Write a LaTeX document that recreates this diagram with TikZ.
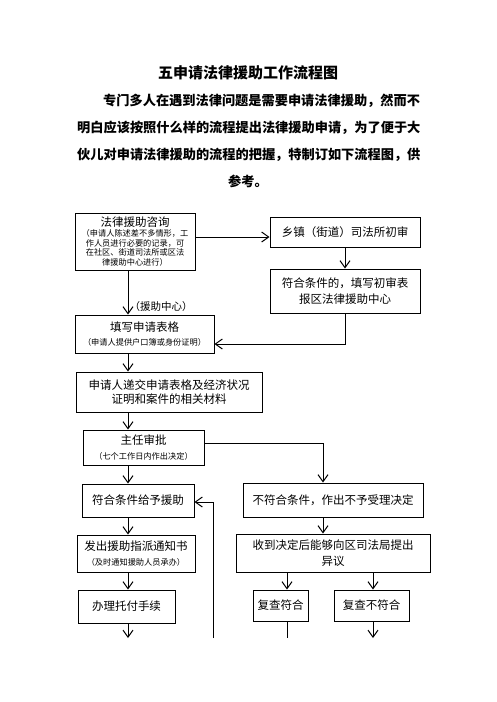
\documentclass[tikz,border=0pt]{standalone}
\usepackage{fontspec}
\setmainfont{Noto Sans CJK SC}
\usetikzlibrary{arrows.meta}
\newcommand\myfs[2]{\fontsize{#1}{#2}\selectfont}
\begin{document}
\begin{tikzpicture}[x=1pt,y=-1pt,
  box/.style={draw, line width=1pt, inner sep=0pt, align=center, font=\myfs{11.5}{15.5}},
  sbox/.style={draw, line width=1pt, inner sep=0pt, align=center, font=\myfs{8.2}{9.5}},
  ln/.style={line width=1pt},
  arr/.style={line width=1pt, -{Straight Barb[length=7pt,width=10pt,line width=1pt]}},
  para/.style={anchor=west, inner sep=0pt, font=\bfseries\myfs{13.2}{14}}]
\useasboundingbox[fill=white] (0,0) rectangle (496,702);
% title and text
\node[inner sep=0pt, font=\bfseries\myfs{15}{16}] (title) at (248,73) {五申请法律援助工作流程图};
\node[para] (p1) at (103,101) {专门多人在遇到法律问题是需要申请法律援助，然而不};
\node[para] (p2) at (77,128) {明白应该按照什么样的流程提出法律援助申请，为了便于大};
\node[para] (p3) at (77,155) {伙儿对申请法律援助的流程的把握，特制订如下流程图，供};
\node[inner sep=0pt, font=\bfseries\myfs{13.2}{14}] (p4) at (248,181) {参考。};
% boxes
\node[sbox, minimum width=120, minimum height=57] (b1) at (135,241.5)
  {\myfs{11.5}{12}法律援助咨询\\[1pt]（申请人陈述差不多情形，工\\作人员进行必要的记录，可\\在社区、街道司法所或区法\\律援助中心进行）};
\node[box, minimum width=150, minimum height=30] (b2) at (345,232) {乡镇（街道）司法所初审};
\node[box, minimum width=150, minimum height=44] (b3) at (345,291) {符合条件的，填写初审表\\报区法律援助中心};
\node[sbox, minimum width=139, minimum height=38] (b4) at (144.5,334)
  {\myfs{11.5}{12}填写申请表格\\[5pt]（申请人提供户口簿或身份证明）};
\node[box, font=\myfs{11.5}{14}, minimum width=186, minimum height=40] (b5) at (169,392)
  {申请人递交申请表格及经济状况\\证明和案件的相关材料};
\node[sbox, minimum width=121, minimum height=35] (b6) at (143.5,447.5)
  {\myfs{11.5}{12}主任审批\\[6pt]（七个工作日内作出决定）};
\node[box, minimum width=112, minimum height=33] (b7) at (138,500.5) {符合条件给予援助};
\node[box, minimum width=180, minimum height=34] (b8) at (333,500) {不符合条件，作出不予受理决定};
\node[sbox, minimum width=118, minimum height=37] (b9) at (136,553.5)
  {\myfs{11.5}{12}发出援助指派通知书\\[5pt]（及时通知援助人员承办）};
\node[box, minimum width=97, minimum height=33] (b10) at (126.5,606.5) {办理托付手续};
\node[box, minimum width=194, minimum height=38] (b11) at (333,553) {收到决定后能够向区司法局提出\\异议};
\node[box, minimum width=55, minimum height=31] (b12) at (280.5,605.5) {复查符合};
\node[box, minimum width=75, minimum height=31] (b13) at (371.5,605.5) {复查不符合};
\node[anchor=west, inner sep=0pt, font=\myfs{10.5}{12}] (lab) at (129.5,307) {（援助中心）};
% helper coordinates
\coordinate (sp) at (128,0);
\coordinate (r1) at (0,237);
\coordinate (r2) at (0,344);
\coordinate (r3) at (323,443);
\coordinate (e1) at (128,638);
\coordinate (c12) at (287,638);
\coordinate (c13) at (373,638);
\coordinate (fb) at (213,638);
\coordinate (fbt) at (213,502);
% connectors
\draw[arr] (b1.east |- r1) -- (b2.west |- r1);
\draw[arr] (b2.south) -- (b3.north);
\draw[arr] (b3.south) |- (b4.east |- r2);
\draw[arr] (b1.south -| sp) -- (b4.north -| sp);
\draw[arr] (b4.south -| sp) -- (b5.north -| sp);
\draw[arr] (b5.south -| sp) -- (b6.north -| sp);
\draw[arr] (b6.south -| sp) -- (b7.north -| sp);
\draw[arr] (b7.south -| sp) -- (b9.north -| sp);
\draw[arr] (b9.south -| sp) -- (b10.north -| sp);
\draw[arr] (b10.south -| sp) -- (e1);
\draw[arr] (b6.east |- r3) -- (r3) -- (b8.north -| r3);
\draw[arr] (b8.south -| r3) -- (b11.north -| r3);
\draw[arr] (b11.south -| c12) -- (b12.north -| c12);
\draw[arr] (b11.south -| c13) -- (b13.north -| c13);
\draw[ln] (b12.south -| c12) -- (c12);
\draw[arr] (b13.south -| c13) -- (c13);
\draw[arr] (fb) -- (fbt) -- (b7.east |- fbt);
\end{tikzpicture}
\end{document}
